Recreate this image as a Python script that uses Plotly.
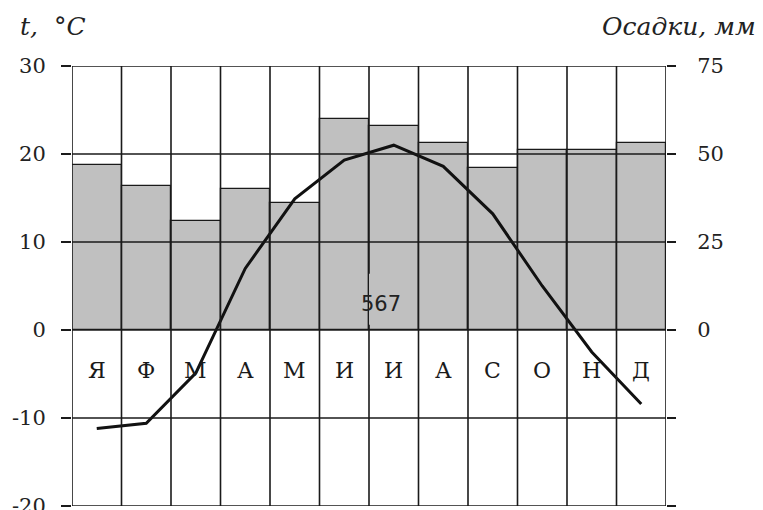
import plotly.graph_objects as go

# ---- data ----
months = ["Я", "Ф", "М", "А", "М", "И", "И", "А", "С", "О", "Н", "Д"]
temperature = [-11.2, -10.6, -4.9, 7.0, 14.9, 19.3, 21.0, 18.6, 13.2, 5.0, -2.5, -8.4]
precipitation = [47, 41, 31, 40, 36, 60, 58, 53, 46, 51, 51, 53]
temp_ticks = [-20, -10, 0, 10, 20, 30]
temp_labels = ["-20", "-10", "0", "10", "20", "30"]
precip_ticks = [-50, -25, 0, 25, 50, 75]
precip_labels = ["", "", "0", "25", "50", "75"]
annual_total = "567"
temp_title = "t,  °C"
precip_title = "Осадки, мм"

x = list(range(len(months)))
SERIF = "DejaVu Serif"
INK = "#1a1a1a"
TXT = "#222222"

fig = go.Figure()
fig.add_trace(go.Bar(
    x=x, y=precipitation, yaxis="y", width=1,
    marker=dict(color="#c0c0c0", line=dict(color=INK, width=1.2)),
    showlegend=False, hoverinfo="skip"))
fig.add_trace(go.Scatter(
    x=x, y=temperature, yaxis="y2", mode="lines",
    line=dict(color="#111111", width=3), showlegend=False))

shapes = []
# horizontal grid lines (above bars)
for t in temp_ticks:
    shapes.append(dict(type="line", xref="paper", yref="y2", x0=0, x1=1, y0=t, y1=t,
                       line=dict(color=INK, width=1.6), layer="above"))
# vertical column boundaries
n = len(months)
for i in range(n + 1):
    b = i - 0.5
    if i == 6:
        shapes.append(dict(type="line", xref="x", yref="y2", x0=b, x1=b, y0=-20, y1=0.6,
                           line=dict(color=INK, width=1.6), layer="above"))
        shapes.append(dict(type="line", xref="x", yref="y2", x0=b, x1=b, y0=6.4, y1=30,
                           line=dict(color=INK, width=1.6), layer="above"))
    else:
        shapes.append(dict(type="line", xref="x", yref="y2", x0=b, x1=b, y0=-20, y1=30,
                           line=dict(color=INK, width=1.6), layer="above"))

annotations = []
for i, m in enumerate(months):
    annotations.append(dict(x=i, y=-4.6, xref="x", yref="y2", text=m, showarrow=False,
                            font=dict(family=SERIF, size=22, color=INK)))
annotations.append(dict(x=5.5, y=3.0, xref="x", yref="y2", text=annual_total, showarrow=False,
                        xshift=12, font=dict(family="DejaVu Sans", size=21, color=TXT)))
annotations.append(dict(x=-0.091, y=1.089, xref="paper", yref="paper", text="<i>" + temp_title + "</i>",
                        xanchor="left", yanchor="middle", showarrow=False,
                        font=dict(family=SERIF, size=25, color=TXT)))
annotations.append(dict(x=1.155, y=1.089, xref="paper", yref="paper", text="<i>" + precip_title + "</i>",
                        xanchor="right", yanchor="middle", showarrow=False,
                        font=dict(family=SERIF, size=25, color=TXT)))

# the page adds an 8px body margin, so the figure is sized to fit inside it
fig.update_layout(
    width=755, height=502,
    margin=dict(l=64, r=97, t=58, b=4, autoexpand=False),
    paper_bgcolor="white", plot_bgcolor="white",
    bargap=0,
    xaxis=dict(range=[-0.5, n - 0.5], showgrid=False, zeroline=False,
               showticklabels=False, ticks="", fixedrange=True, automargin=False),
    yaxis=dict(range=[-50, 75], side="right", tickvals=precip_ticks, ticktext=precip_labels,
               ticks="outside", ticklen=9, tickwidth=1.6, tickcolor=INK,
               showgrid=False, zeroline=False, ticklabelstandoff=17,
               ticklabeloverflow="allow", automargin=False,
               tickfont=dict(family=SERIF, size=21, color=TXT)),
    yaxis2=dict(range=[-20, 30], side="left", overlaying="y", tickvals=temp_ticks, ticktext=temp_labels,
                ticks="outside", ticklen=10, tickwidth=1.6, tickcolor=INK,
                showgrid=False, zeroline=False, ticklabelstandoff=11,
                ticklabeloverflow="allow", automargin=False,
                tickfont=dict(family=SERIF, size=21, color=TXT)),
    shapes=shapes,
    annotations=annotations,
)

fig.write_html("out.html")
